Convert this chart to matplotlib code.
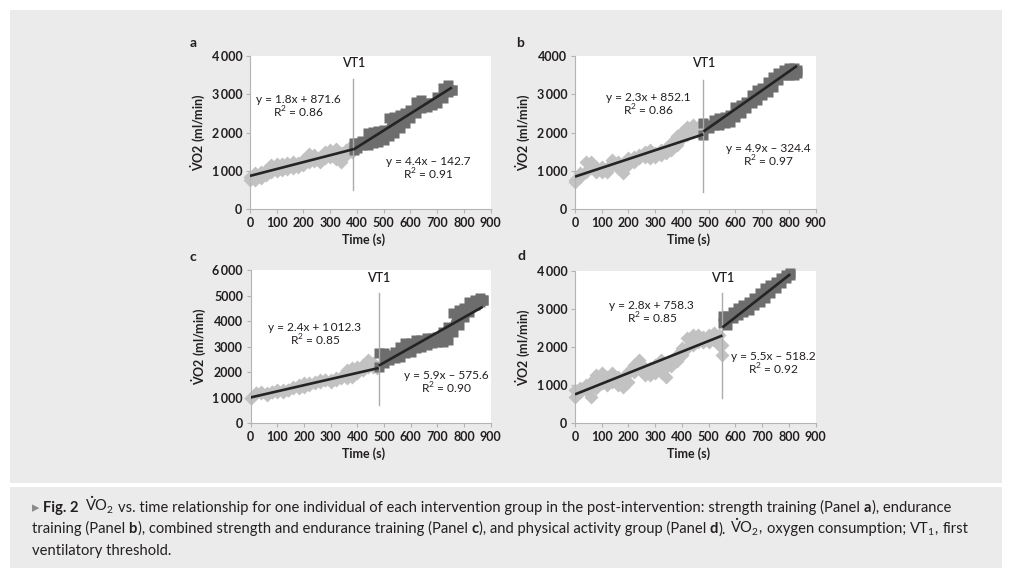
import matplotlib
matplotlib.use("Agg")
import matplotlib.pyplot as plt
from matplotlib.patches import Rectangle
import numpy as np

W, H = 1010, 577
FAM = ["Lato", "DejaVu Sans"]
plt.rcParams["font.family"] = FAM
plt.rcParams["mathtext.fontset"] = "custom"
plt.rcParams["mathtext.rm"] = "Lato:bold"
plt.rcParams["mathtext.sf"] = "Lato"
plt.rcParams["mathtext.bf"] = "Lato:bold"

# ---------------- data ----------------
time_ticks = [0, 100, 200, 300, 400, 500, 600, 700, 800, 900]
time_tick_labels = ["0", "100", "200", "300", "400", "500", "600", "700", "800", "900"]

vo2_ticks_4k = [0, 1000, 2000, 3000, 4000]
vo2_labels_a = ["0", "1\u2009000", "2\u2009000", "3\u2009000", "4\u2009000"]
vo2_labels_b = ["0", "1\u2009000", "2\u2009000", "3\u2009000", "4000"]
vo2_ticks_6k = [0, 1000, 2000, 3000, 4000, 5000, 6000]
vo2_labels_c = ["0", "1\u2009000", "2000", "3000", "4000", "5000", "6\u2009000"]
vo2_labels_d = ["0", "1\u2009000", "2\u2009000", "3\u2009000", "4\u2009000"]

# Panel a (strength training): upper / lower envelope of breath-by-breath VO2
a_pre_t = [0, 20, 40, 60, 80, 100, 120, 140, 160, 180, 200, 220, 240, 260, 280, 300, 320, 340, 360, 380]
a_pre_hi = [850, 940, 980, 1030, 1160, 1170, 1170, 1200, 1230, 1200, 1290, 1440, 1420, 1370, 1490, 1550, 1570, 1460, 1550, 1680]
a_pre_lo = [770, 770, 810, 900, 980, 1000, 1030, 1050, 1090, 1110, 1160, 1240, 1260, 1240, 1330, 1370, 1310, 1240, 1420, 1490]
a_post_t = [390, 400, 420, 440, 460, 480, 500, 520, 540, 560, 580, 600, 620, 640, 660, 680, 700, 720, 740, 755]
a_post_hi = [1720, 1720, 1770, 1980, 2030, 2040, 2070, 2370, 2420, 2460, 2500, 2590, 2810, 2850, 2770, 2770, 2940, 3160, 3240, 3110]
a_post_lo = [1550, 1590, 1680, 1680, 1720, 1750, 1810, 1900, 1980, 2110, 2240, 2370, 2500, 2640, 2680, 2720, 2770, 2900, 3070, 3110]

# Panel b (endurance training)
b_pre_t = [0, 20, 40, 60, 80, 100, 120, 140, 160, 180, 200, 220, 240, 260, 280, 300, 320, 340, 360, 380, 400, 420, 440, 460, 475]
b_pre_hi = [770, 940, 1240, 1240, 1110, 1110, 1070, 1290, 1240, 1110, 1330, 1370, 1420, 1500, 1550, 1460, 1550, 1590, 1720, 1900, 2030, 2160, 2200, 2160, 2110]
b_pre_lo = [720, 850, 980, 1070, 980, 980, 980, 1160, 1070, 940, 1160, 1240, 1330, 1370, 1330, 1370, 1420, 1460, 1550, 1680, 1850, 1940, 2030, 2030, 2030]
b_post_t = [480, 500, 520, 540, 560, 580, 600, 620, 640, 660, 680, 700, 720, 740, 760, 780, 800, 820, 830]
b_post_hi = [2240, 2200, 2330, 2370, 2420, 2460, 2680, 2720, 2810, 2980, 3110, 3160, 3330, 3460, 3550, 3640, 3680, 3680, 3640]
b_post_lo = [1940, 2110, 2200, 2200, 2240, 2290, 2420, 2500, 2640, 2770, 2850, 2980, 3070, 3200, 3370, 3500, 3500, 3500, 3550]

# Panel c (combined training)
c_pre_t = [0, 20, 40, 60, 80, 100, 120, 140, 160, 180, 200, 220, 240, 260, 280, 300, 320, 340, 360, 380, 400, 420, 440, 460, 475]
c_pre_hi = [980, 1170, 1170, 1110, 1240, 1300, 1300, 1300, 1430, 1500, 1570, 1570, 1630, 1700, 1700, 1700, 1760, 1830, 2090, 2150, 2220, 2280, 2480, 2350, 2150]
c_pre_lo = [980, 1170, 1240, 1170, 1240, 1240, 1240, 1300, 1370, 1370, 1430, 1500, 1570, 1630, 1700, 1630, 1700, 1760, 1760, 1830, 1960, 2090, 2220, 2220, 2220]
c_post_t = [480, 500, 520, 540, 560, 580, 600, 620, 640, 660, 680, 700, 720, 740, 760, 780, 800, 820, 840, 860, 870]
c_post_hi = [2740, 2740, 2670, 2800, 3000, 3130, 3130, 3260, 3260, 3330, 3330, 3390, 3590, 3780, 4300, 4430, 4500, 4760, 4820, 4890, 4820]
c_post_lo = [2220, 2350, 2480, 2540, 2610, 2740, 2800, 2930, 3000, 3060, 3130, 3190, 3190, 3260, 3590, 3850, 4170, 4370, 4630, 4760, 4820]

# Panel d (physical activity group)
d_pre_t = [0, 20, 40, 60, 80, 100, 120, 140, 160, 180, 200, 220, 240, 260, 280, 300, 320, 340, 360, 380, 400, 420, 440, 460, 480, 500, 520, 540, 550]
d_pre_hi = [870, 920, 1000, 1090, 1270, 1310, 1220, 1310, 1220, 1180, 1350, 1530, 1660, 1440, 1440, 1530, 1660, 1490, 1620, 1790, 1970, 2230, 2310, 2310, 2270, 2310, 2360, 2310, 2050]
d_pre_lo = [700, 830, 870, 700, 920, 1050, 1000, 1090, 1000, 960, 1090, 1350, 1440, 1270, 1270, 1310, 1350, 1220, 1490, 1620, 1790, 1970, 2050, 2140, 2140, 2140, 2180, 2050, 1790]
d_post_t = [555, 570, 590, 610, 630, 650, 670, 690, 710, 730, 750, 770, 790, 805]
d_post_hi = [2800, 2800, 2930, 3010, 3100, 3190, 3280, 3410, 3540, 3620, 3710, 3800, 3890, 3930]
d_post_lo = [2620, 2580, 2750, 2840, 2930, 2970, 3100, 3190, 3280, 3410, 3540, 3670, 3800, 3890]

# VT1 times (s) and linear fits (slope, intercept)
vt1_times = [386, 480, 480, 551]
fit_pre = [(1.8, 871.6), (2.3, 852.1), (2.4, 1012.3), (2.8, 758.3)]
fit_post = [(4.4, -142.7), (4.9, -324.4), (5.9, -575.6), (5.5, -518.2)]
eq_pre_text = ["y = 1.8x + 871.6", "y = 2.3x + 852.1", "y = 2.4x + 1\u2009012.3", "y = 2.8x + 758.3"]
eq_post_text = ["y = 4.4x \u2013 142.7", "y = 4.9x \u2013 324.4", "y = 5.9x \u2013 575.6", "y = 5.5x \u2013 518.2"]
r2_pre = ["0.86", "0.86", "0.85", "0.85"]
r2_post = ["0.91", "0.97", "0.90", "0.92"]
panel_letters = ["a", "b", "c", "d"]

# ---------------- style / layout ----------------
LIGHT = "#c2c2c2"
DARK = "#6d6d6d"
LINE = "#242424"
VTC = "#ababab"
TXT = "#231f20"
BG = "#ebebeb"
SPINE = "#b4b4b4"
FS = 9
EFS = 8.6

fig = plt.figure(figsize=(W / 100, H / 100), dpi=100)
fig.patch.set_facecolor("white")


def fig_rect(x0, y0, x1, y1):
    return [x0 / W, 1 - y1 / H, (x1 - x0) / W, (y1 - y0) / H]


for (x0, y0, x1, y1) in [(10, 10, 1001.7, 482.7), (10, 487.3, 1001.7, 568.3)]:
    r = fig_rect(x0, y0, x1, y1)
    fig.patches.append(Rectangle((r[0], r[1]), r[2], r[3], transform=fig.transFigure,
                                 facecolor=BG, edgecolor="none", zorder=-10))

panels = [
    dict(rect=(250, 56, 490.7, 209.3), ymax=4000, yt=vo2_ticks_4k, yl=vo2_labels_a,
         pre=(a_pre_t, a_pre_hi, a_pre_lo), post=(a_post_t, a_post_hi, a_post_lo),
         eq1=(181, 2870), eq2=(667, 1240), vt=(0.126, 0.848), vtlab=3810,
         letter=(193, 42.7)),
    dict(rect=(575, 56, 815.7, 209.3), ymax=4000, yt=vo2_ticks_4k, yl=vo2_labels_b,
         pre=(b_pre_t, b_pre_hi, b_pre_lo), post=(b_post_t, b_post_hi, b_post_lo),
         eq1=(274, 2915), eq2=(723, 1585), vt=(0.115, 0.844), vtlab=3810,
         letter=(520, 42.7)),
    dict(rect=(250.7, 270, 490.7, 423.3), ymax=6000, yt=vo2_ticks_6k, yl=vo2_labels_c,
         pre=(c_pre_t, c_pre_hi, c_pre_lo), post=(c_post_t, c_post_hi, c_post_lo),
         eq1=(241, 3740), eq2=(735, 1880), vt=(0.12, 0.848), vtlab=5670,
         letter=(193, 256.7)),
    dict(rect=(575, 270.7, 815.7, 423.3), ymax=4000, yt=vo2_ticks_4k, yl=vo2_labels_d,
         pre=(d_pre_t, d_pre_hi, d_pre_lo), post=(d_post_t, d_post_hi, d_post_lo),
         eq1=(287, 3077), eq2=(742, 1750), vt=(0.168, 0.855), vtlab=3800,
         letter=(521.7, 256)),
]


def band(ax, t, hi, lo, color, marker, ms):
    t = np.asarray(t, float)
    ax.fill_between(t, lo, hi, color=color, lw=0, zorder=2)
    for arr in (hi, lo):
        ax.plot(t, arr, ls="none", marker=marker, ms=ms, color=color, mec="none",
                zorder=2, clip_on=False)


def equation(ax, x, y, eq, r2):
    ax.text(x, y, eq, ha="center", va="center", fontsize=EFS, color=TXT, zorder=5)
    ax.annotate("R$^{\\mathsf{2}}$ = " + r2, xy=(x, y), xytext=(0, -9.2),
                textcoords="offset points", ha="center", va="center",
                fontsize=EFS, color=TXT, zorder=5)


for i, p in enumerate(panels):
    ax = fig.add_axes(fig_rect(*p["rect"]))
    ax.set_facecolor("white")
    ax.set_xlim(0, 900)
    ax.set_ylim(0, p["ymax"])
    for s in ("top", "right"):
        ax.spines[s].set_visible(False)
    for s in ("left", "bottom"):
        ax.spines[s].set_color(SPINE)
        ax.spines[s].set_linewidth(0.8)
    ax.set_xticks(time_ticks)
    ax.set_xticklabels(time_tick_labels, fontsize=FS, fontweight="bold", color=TXT)
    ax.set_yticks(p["yt"])
    ax.set_yticklabels(p["yl"], fontsize=FS, fontweight="bold", color=TXT)
    ax.tick_params(axis="both", length=3, width=0.8, color=SPINE, pad=2.5)

    band(ax, *p["pre"], LIGHT, "D", 7.0)
    band(ax, *p["post"], DARK, "s", 7.5)

    vt = vt1_times[i]
    ax.axvline(vt, ymin=p["vt"][0], ymax=p["vt"][1], color=VTC, lw=1.0, zorder=3)

    tp = np.array([p["pre"][0][0], vt], float)
    ax.plot(tp, fit_pre[i][0] * tp + fit_pre[i][1], color=LINE, lw=1.9, zorder=4,
            solid_capstyle="butt")
    tq = np.array([vt, p["post"][0][-1]], float)
    ax.plot(tq, fit_post[i][0] * tq + fit_post[i][1], color=LINE, lw=1.9, zorder=4,
            solid_capstyle="butt")

    ax.text(vt, p["vtlab"], "VT1", ha="center", va="center", fontsize=FS,
            fontweight="semibold", color=TXT, zorder=5)
    equation(ax, *p["eq1"], eq_pre_text[i], r2_pre[i])
    equation(ax, *p["eq2"], eq_post_text[i], r2_post[i])

    ax.text(0.47, -0.196, "Time (s)", transform=ax.transAxes, ha="center", va="center",
            fontsize=FS, fontweight="bold", color=TXT)
    ax.text(-0.216, 0.5, r"$\dot{\mathrm{V}}$O2 (ml/min)", transform=ax.transAxes,
            rotation=90, ha="center", va="center", fontsize=FS, fontweight="bold", color=TXT)

    lx, ly = p["letter"]
    fig.text(lx / W, 1 - ly / H, panel_letters[i], ha="center", va="center",
             fontsize=10, fontweight="bold", color=TXT)

# ---------------- caption ----------------
renderer = fig.canvas.get_renderer()
GRAYTRI = "#8a8a8a"
VO2 = r"$\dot{\mathsf{V}}$O$_{\mathsf{2}}$"
caption_lines = [
    [("\u25B8", "normal", GRAYTRI, 0), ("Fig. 2", "bold", TXT, 1),
     (VO2, "normal", TXT, 1.8),
     ("vs. time relationship for one individual of each intervention group in the post-intervention: strength training (Panel", "normal", TXT, 1),
     ("a", "bold", TXT, 1), ("), endurance", "normal", TXT, 0.15)],
    [("training (Panel", "normal", TXT, 0), ("b", "bold", TXT, 1),
     ("), combined strength and endurance training (Panel", "normal", TXT, 0.15),
     ("c", "bold", TXT, 1), ("), and physical activity group (Panel", "normal", TXT, 0.15),
     ("d", "bold", TXT, 1), (").", "normal", TXT, 0.15), (VO2 + ",", "normal", TXT, 1),
     ("oxygen consumption;", "normal", TXT, 1), (r"VT$_{\mathsf{1}}$,", "normal", TXT, 1),
     ("first", "normal", TXT, 1)],
    [("ventilatory threshold.", "normal", TXT, 0)],
]
baselines = [511.7, 533.3, 555.0]
X0 = 31.7


def ink_width(s, size, weight):
    t = fig.text(0, 0, s, fontsize=size, fontweight=weight)
    w = t.get_window_extent(renderer).width
    t.remove()
    return w


def draw_line(runs, y_px, size):
    x = X0
    made = []
    spw = ink_width("n n", size, "normal") - ink_width("nn", size, "normal")
    for txt, weight, color, gap in runs:
        x += gap * spw
        t = fig.text(x / W, 1 - y_px / H, txt, fontsize=size, fontweight=weight,
                     color=color, ha="left", va="baseline")
        bb = t.get_window_extent(renderer)
        x = bb.x1
        made.append(t)
    return made, x


size = 10.0
made, xend = draw_line(caption_lines[0], baselines[0], size)
for t in made:
    t.remove()
size = size * (947.3 - X0) / (xend - X0)
for runs, yb in zip(caption_lines, baselines):
    draw_line(runs, yb, size)

fig.savefig("out.png", dpi=100, facecolor="white")
